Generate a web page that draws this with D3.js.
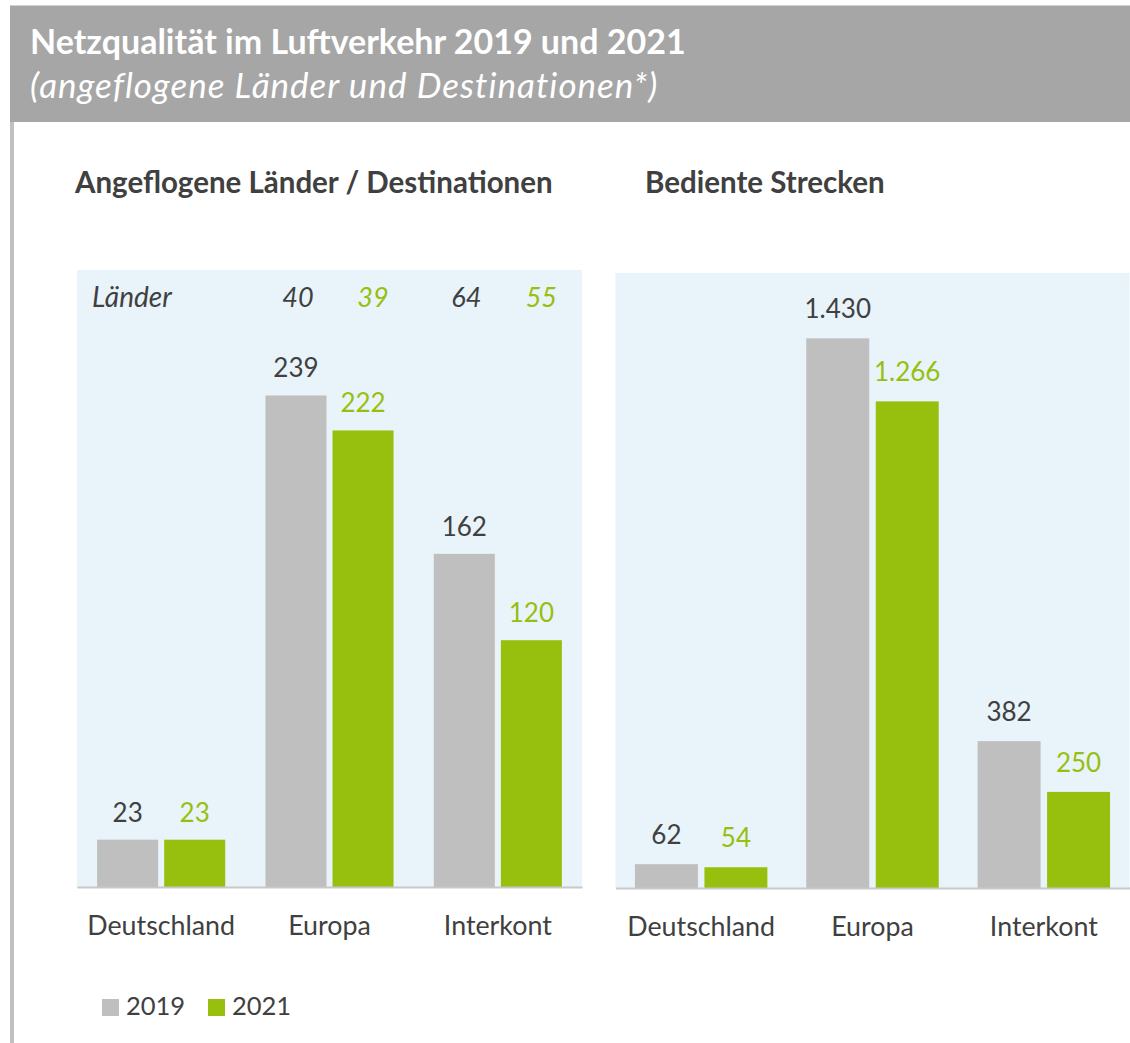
<!DOCTYPE html>
<html lang="de">
  <head>
    <meta charset="utf-8">
    <title>Netzqualität im Luftverkehr</title>
    <script src="https://d3js.org/d3.v7.min.js"></script>
    <style>
      body { margin: 0; background: #fff; }
      text { font-family: Lato, "Open Sans", sans-serif; }
    </style>
  </head>
  <body>
    <div id="chart"></div>
    <script type="text/javascript">
      // data
      var categories = ["Deutschland", "Europa", "Interkont"];
      var years = ["2019", "2021"];
      var destinations2019 = [23, 239, 162];
      var destinations2021 = [23, 222, 120];
      var routes2019 = [62, 1430, 382];
      var routes2021 = [54, 1266, 250];
      // "Länder" row, only for Europa and Interkont
      var countries2019 = [null, 40, 64];
      var countries2021 = [null, 39, 55];

      var colors = { "2019": "#bfbfbf", "2021": "#97bf0d" };
      var labelColors = { "2019": "#404040", "2021": "#97bf0d" };
      var dark = "#404040";

      var de = d3.formatLocale({ decimal: ",", thousands: ".", grouping: [3], currency: ["", " €"] });
      var fmt = de.format(",");

      var svg = d3.select("#chart")
        .append("svg")
        .attr("width", 1130)
        .attr("height", 1043);

      // frame + grey header band
      svg.append("rect")
        .attr("x", 10).attr("y", 6)
        .attr("width", 4).attr("height", 1037)
        .attr("fill", "#c0c0c0");
      svg.append("rect")
        .attr("x", 10).attr("y", 6)
        .attr("width", 1120).attr("height", 116)
        .attr("fill", "#a6a6a6");
      svg.append("line")
        .attr("x1", 10).attr("x2", 1130)
        .attr("y1", 5.5).attr("y2", 5.5)
        .attr("stroke", "#d0d0d0");

      svg.append("text")
        .attr("x", 30).attr("y", 54)
        .attr("fill", "#fff")
        .style("font-size", "34px")
        .style("font-weight", "bold")
        .text("Netzqualität im Luftverkehr 2019 und 2021");
      svg.append("text")
        .attr("x", 30).attr("y", 98)
        .attr("fill", "#fff")
        .style("font-size", "35px")
        .style("font-style", "italic")
        .style("letter-spacing", "1px")
        .text("(angeflogene Länder und Destinationen*)");

      // one panel of grouped bars
      var drawPanel = function(opts) {
        var rows = categories.map(function(c, i) {
          return { cat: c, "2019": opts.v2019[i], "2021": opts.v2021[i] };
        });

        var x0 = d3.scaleBand()
          .domain(categories)
          .range([opts.left, opts.right])
          .padding(0);
        var x1 = d3.scaleBand()
          .domain(years)
          .range([0, x0.bandwidth()])
          .paddingInner(opts.inner)
          .paddingOuter(opts.outer);
        var y = d3.scaleLinear()
          .domain([0, opts.max])
          .range([opts.bottom, opts.top]);

        // light blue plot area
        svg.append("rect")
          .attr("x", opts.left).attr("y", opts.top)
          .attr("width", opts.right - opts.left)
          .attr("height", opts.bottom - opts.top)
          .attr("fill", "#e8f4fa");

        svg.append("text")
          .attr("x", opts.titleX).attr("y", 193)
          .attr("fill", dark)
          .style("font-size", "29.5px")
          .style("font-weight", "bold")
          .text(opts.title);

        var g = svg.selectAll(".grp-" + opts.id)
          .data(rows)
          .enter()
          .append("g")
            .attr("class", "grp-" + opts.id)
            .attr("transform", function(d) { return "translate(" + x0(d.cat) + ",0)"; });

        var bars = g.selectAll("rect")
          .data(function(d) { return years.map(function(yr) { return { yr: yr, v: d[yr] }; }); })
          .enter();

        bars.append("rect")
          .attr("x", function(d) { return x1(d.yr); })
          .attr("y", function(d) { return y(d.v); })
          .attr("width", x1.bandwidth())
          .attr("height", function(d) { return y(0) - y(d.v); })
          .attr("fill", function(d) { return colors[d.yr]; });

        bars.append("text")
          .attr("x", function(d) { return x1(d.yr) + x1.bandwidth() / 2; })
          .attr("y", function(d) { return y(d.v) - opts.labelGap; })
          .attr("text-anchor", "middle")
          .attr("fill", function(d) { return labelColors[d.yr]; })
          .style("font-size", "26px")
          .text(function(d) { return fmt(d.v); });

        // x axis: baseline + category names
        var xAxis = d3.axisBottom(x0).tickSize(0).tickPadding(29);
        var ax = svg.append("g")
          .attr("transform", "translate(0," + opts.bottom + ")")
          .call(xAxis);
        ax.select(".domain")
          .attr("stroke", "#c8c8c8")
          .attr("stroke-width", 2);
        ax.selectAll(".tick text")
          .attr("fill", dark)
          .style("font-size", "26.8px")
          .style("font-family", "Lato, 'Open Sans', sans-serif");

        return { x0: x0, x1: x1, y: y };
      };

      var left = drawPanel({
        id: "dest", title: "Angeflogene Länder / Destinationen", titleX: 75,
        v2019: destinations2019, v2021: destinations2021, max: 300,
        left: 77, right: 582, top: 270, bottom: 887,
        inner: 0.09, outer: 0.30, labelGap: 18
      });

      drawPanel({
        id: "routes", title: "Bediente Strecken", titleX: 645,
        v2019: routes2019, v2021: routes2021, max: 1600,
        left: 615.5, right: 1129.5, top: 273, bottom: 888,
        inner: 0.094, outer: 0.28, labelGap: 20
      });

      // "Länder" row in the left panel
      svg.append("text")
        .attr("x", 92).attr("y", 307)
        .attr("fill", dark)
        .style("font-size", "28px")
        .style("font-style", "italic")
        .text("Länder");

      var countryRows = [];
      categories.forEach(function(c, i) {
        if (countries2019[i] != null) countryRows.push({ cat: c, yr: "2019", v: countries2019[i] });
        if (countries2021[i] != null) countryRows.push({ cat: c, yr: "2021", v: countries2021[i] });
      });
      svg.selectAll(".country")
        .data(countryRows)
        .enter()
        .append("text")
          .attr("class", "country")
          .attr("x", function(d) {
            return left.x0(d.cat) + left.x1(d.yr) + left.x1.bandwidth() / 2 + (d.yr === "2021" ? 10 : 2);
          })
          .attr("y", 307)
          .attr("text-anchor", "middle")
          .attr("fill", function(d) { return labelColors[d.yr]; })
          .style("font-size", "27px")
          .style("font-style", "italic")
          .text(function(d) { return d.v; });

      // legend
      var legend = svg.selectAll(".legend")
        .data(years)
        .enter()
        .append("g")
          .attr("class", "legend")
          .attr("transform", function(d, i) { return "translate(" + (102 + i * 106) + ",999)"; });
      legend.append("rect")
        .attr("width", 17).attr("height", 17)
        .attr("fill", function(d) { return colors[d]; });
      legend.append("text")
        .attr("x", 24).attr("y", 16)
        .attr("fill", dark)
        .style("font-size", "25.5px")
        .text(function(d) { return d; });
    </script>
  </body>
</html>
